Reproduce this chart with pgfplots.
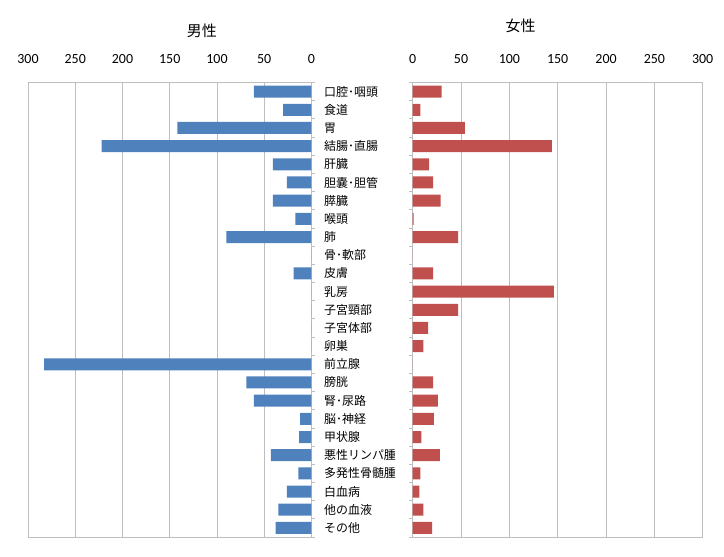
\documentclass[border=0pt]{standalone}
\usepackage{pgfplots}
\usepackage{pgfplotstable}
\pgfplotsset{compat=1.18}
\usepackage{fontspec}
\setmainfont{Carlito}
\newfontfamily\jp{Noto Sans CJK JP}
\definecolor{mblue}{RGB}{79,129,189}
\definecolor{fred}{RGB}{192,80,77}
\definecolor{gridc}{RGB}{190,190,190}

\pgfplotstableread{
idx male female
1 61 30
2 30 8
3 142 54
4 222 144
5 41 17
6 26 21
7 41 29
8 17 1
9 90 47
10 0 0
11 19 21
12 0 146
13 0 47
14 0 16
15 0 11
16 283 0
17 69 21
18 61 26
19 12 22
20 13 9
21 43 28
22 14 8
23 26 7
24 35 11
25 38 20
}\cancer

\pgfplotsset{
  common/.style={
    scale only axis, height=454.5bp,
    xbar, bar width=0.66, bar shift=0pt,
    xmin=0, xmax=300, xtick={0,50,...,300},
    ymin=0.5, ymax=25.5, y dir=reverse,
    xticklabel pos=upper, xtick pos=upper,
    xmajorgrids, grid style={gridc, line width=0.8pt},
    axis line style={gridc, line width=0.8pt},
    ytick={0.5,1.5,...,25.5}, yticklabels={},
    tick align=outside,
    major tick length=3.3bp,
    ytick style={gridc, line width=0.8pt},
    xtick style={draw=none},
    /pgf/number format/assume math mode=true,
    xticklabel style={font=\fontsize{14}{14}\selectfont, inner sep=0pt, yshift=15bp, text=black},
    title style={font=\jp\fontsize{15}{15}\selectfont, anchor=center},
  }
}

\begin{document}
\begin{tikzpicture}
\path[use as bounding box] (0,0) rectangle (724bp,557bp);
\begin{axis}[common,
  at={(28bp,20bp)}, anchor=south west, width=283.5bp,
  x dir=reverse,
  ytick pos=right, yticklabel pos=right,
  extra y ticks={1,...,25},
  extra y tick labels={口腔･咽頭,食道,胃,結腸･直腸,肝臓,胆嚢･胆管,膵臓,喉頭,肺,骨･軟部,皮膚,乳房,子宮頸部,子宮体部,卵巣,前立腺,膀胱,腎･尿路,脳･神経,甲状腺,悪性リンパ腫,多発性骨髄腫,白血病,他の血液,その他},
  extra y tick style={major tick length=0pt, yticklabel style={anchor=west, inner sep=0pt, xshift=12.5bp, font=\jp\fontsize{12}{12}\selectfont}},
  title={男性}, title style={at={(axis description cs:0.613,1.100)}},
]
\addplot[fill=mblue, draw=none] table[x=male, y=idx] {\cancer};
\end{axis}
\begin{axis}[common,
  at={(412.7bp,20bp)}, anchor=south west, width=290bp,
  ytick pos=left,
  title={女性}, title style={at={(axis description cs:0.372,1.111)}},
]
\addplot[fill=fred, draw=none] table[x=female, y=idx] {\cancer};
\end{axis}
\end{tikzpicture}
\end{document}
